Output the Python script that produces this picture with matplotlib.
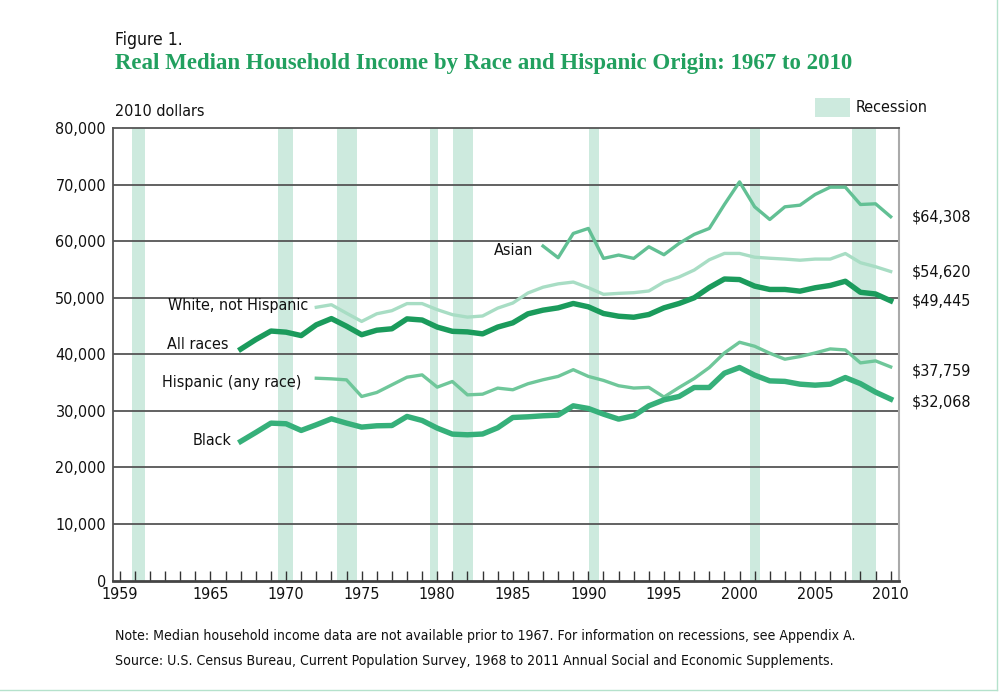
import matplotlib
matplotlib.use("Agg")
import matplotlib.pyplot as plt
from matplotlib.patches import Rectangle
from matplotlib.lines import Line2D

# data (2010 dollars)
years_all = list(range(1967, 2011))
years_72 = list(range(1972, 2011))
years_asian = list(range(1987, 2011))

all_races = [40900, 42600, 44100, 43900, 43300, 45200, 46300, 44950, 43450, 44250,
             44500, 46250, 46050, 44800, 44050, 43950, 43600, 44800, 45550, 47140,
             47790, 48200, 48970, 48380, 47200, 46720, 46540, 47020, 48200, 48970,
             49980, 51800, 53300, 53200, 52040, 51450, 51450, 51150, 51750, 52160,
             52900, 50950, 50650, 49445]

black = [24590, 26180, 27820, 27710, 26530, 27530, 28590, 27820, 27120, 27350,
         27400, 29000, 28290, 26940, 25880, 25760, 25900, 27000, 28820, 28940,
         29120, 29240, 30880, 30410, 29410, 28530, 29120, 30880, 31940, 32530,
         34120, 34120, 36650, 37650, 36300, 35290, 35200, 34710, 34530, 34710,
         35880, 34800, 33300, 32068]

white_nh = [48300, 48750, 47250, 45800, 47150, 47700, 48950, 48950, 47880, 47000,
            46560, 46760, 48150, 49050, 50820, 51850, 52440, 52760, 51760, 50590,
            50760, 50880, 51180, 52760, 53650, 54880, 56700, 57820, 57820, 57150,
            56970, 56820, 56620, 56820, 56820, 57800, 56180, 55470, 54620]

hispanic = [35760, 35650, 35470, 32530, 33240, 34590, 35940, 36350, 34180, 35180,
            32820, 32940, 34010, 33720, 34780, 35490, 36080, 37270, 36080, 35370,
            34430, 34020, 34140, 32430, 34120, 35710, 37650, 40230, 42120, 41410,
            40180, 39120, 39590, 40230, 40940, 40760, 38470, 38820, 37759]

asian = [59120, 57060, 61350, 62240, 56940, 57530, 56940, 59000, 57590, 59590,
         61180, 62240, 66470, 70470, 66060, 63820, 66060, 66350, 68240, 69530,
         69530, 66470, 66590, 64308]

# recession spans as drawn on the chart (year axis)
rec_start = [1959.8, 1969.47, 1973.38, 1979.55, 1981.05, 1990.05, 2000.72, 2007.47]
rec_end = [1960.65, 1970.43, 1974.72, 1980.05, 1982.38, 1990.72, 2001.38, 2009.05]

label_years = [1959, 1965, 1970, 1975, 1980, 1985, 1990, 1995, 2000, 2005, 2010]

plt.rcParams['font.family'] = ['DejaVu Sans']
plt.rcParams['font.stretch'] = 'condensed'

REC = '#cdeade'
GREEN_TITLE = '#22a05f'
TXT = '#111111'

fig = plt.figure(figsize=(10, 6.92), dpi=100)
ax = fig.add_axes([0.113, 0.1611, 0.786, 0.654])

for s, e in zip(rec_start, rec_end):
    ax.axvspan(s, e, color=REC, lw=0, zorder=0)

for v in range(10000, 80000, 10000):
    ax.axhline(v, color='#555555', lw=1.3, zorder=1)

series = [
    ('White, not Hispanic', years_72, white_nh, '#a8ddc4', 2.4, (-6, 1), (15, 0)),
    ('Asian', years_asian, asian, '#62c094', 2.4, (-7, -3.5), (15, 0)),
    ('Hispanic (any race)', years_72, hispanic, '#6fc79a', 2.4, (-11, -3), (15, -3)),
    ('Black', years_all, black, '#36b07a', 3.9, (-7, 0.5), (15, -2)),
    ('All races', years_all, all_races, '#1b9b5c', 3.9, (-8.5, 3), (15, 0)),
]

for name, xs, ys, col, lw, loff, roff in series:
    ax.plot(xs, ys, color=col, lw=lw, solid_joinstyle='round', zorder=3)
    ax.annotate(name, xy=(xs[0], ys[0]), xytext=loff, textcoords='offset points',
                ha='right', va='center', fontsize=11.5, color=TXT)
    ax.annotate('${:,}'.format(ys[-1]), xy=(xs[-1], ys[-1]), xytext=roff,
                textcoords='offset points', ha='left', va='center',
                fontsize=11.5, color=TXT, annotation_clip=False)

ax.set_xlim(1958.55, 2010.55)
ax.set_ylim(0, 80000)

ax.set_xticks(range(1959, 2011))
ax.set_xticklabels([str(y) if y in label_years else '' for y in range(1959, 2011)])
ax.tick_params(axis='x', direction='in', length=7, width=1, color='#333333',
               labelsize=11.5, pad=5, labelcolor=TXT)
ax.set_yticks(range(0, 80001, 10000))
ax.set_yticklabels(['{:,}'.format(v) for v in range(0, 80001, 10000)])
ax.tick_params(axis='y', length=0, labelsize=11.5, pad=5, labelcolor=TXT)

ax.spines['top'].set_color('#555555')
ax.spines['top'].set_linewidth(1.3)
ax.spines['left'].set_color('#555555')
ax.spines['left'].set_linewidth(1.3)
ax.spines['bottom'].set_color('#444444')
ax.spines['bottom'].set_linewidth(2)
ax.spines['right'].set_color('#aaaaaa')
ax.spines['right'].set_linewidth(1.5)

# titles and notes
fig.text(0.115, 1 - 40 / 692, 'Figure 1.', fontsize=12.5, va='center', color=TXT)
fig.text(0.115, 1 - 63 / 692,
         'Real Median Household Income by Race and Hispanic Origin: 1967 to 2010',
         fontsize=16.5, fontweight='bold', family=['Liberation Serif', 'DejaVu Serif'],
         fontstretch='normal', color=GREEN_TITLE, va='center')
fig.text(0.115, 1 - 112 / 692, '2010 dollars', fontsize=11.5, va='center', color=TXT)

fig.patches.append(Rectangle((0.815, 1 - 117 / 692), 0.035, 19 / 692,
                             transform=fig.transFigure, color=REC, lw=0))
fig.text(0.856, 1 - 108 / 692, 'Recession', fontsize=11.5, va='center', color=TXT)

fig.text(0.115, 1 - 636 / 692,
         'Note: Median household income data are not available prior to 1967. '
         'For information on recessions, see Appendix A.',
         fontsize=10.1, va='center', color=TXT)
fig.text(0.115, 1 - 661 / 692,
         'Source: U.S. Census Bureau, Current Population Survey, 1968 to 2011 '
         'Annual Social and Economic Supplements.',
         fontsize=10.1, va='center', color=TXT)

# thin frame on the right and bottom edges
fig.lines.append(Line2D([0.997, 0.997], [0.003, 1], transform=fig.transFigure,
                        color='#b5e2cc', lw=1))
fig.lines.append(Line2D([0, 0.997], [0.003, 0.003], transform=fig.transFigure,
                        color='#b5e2cc', lw=1))

fig.savefig('out.png', dpi=100)
